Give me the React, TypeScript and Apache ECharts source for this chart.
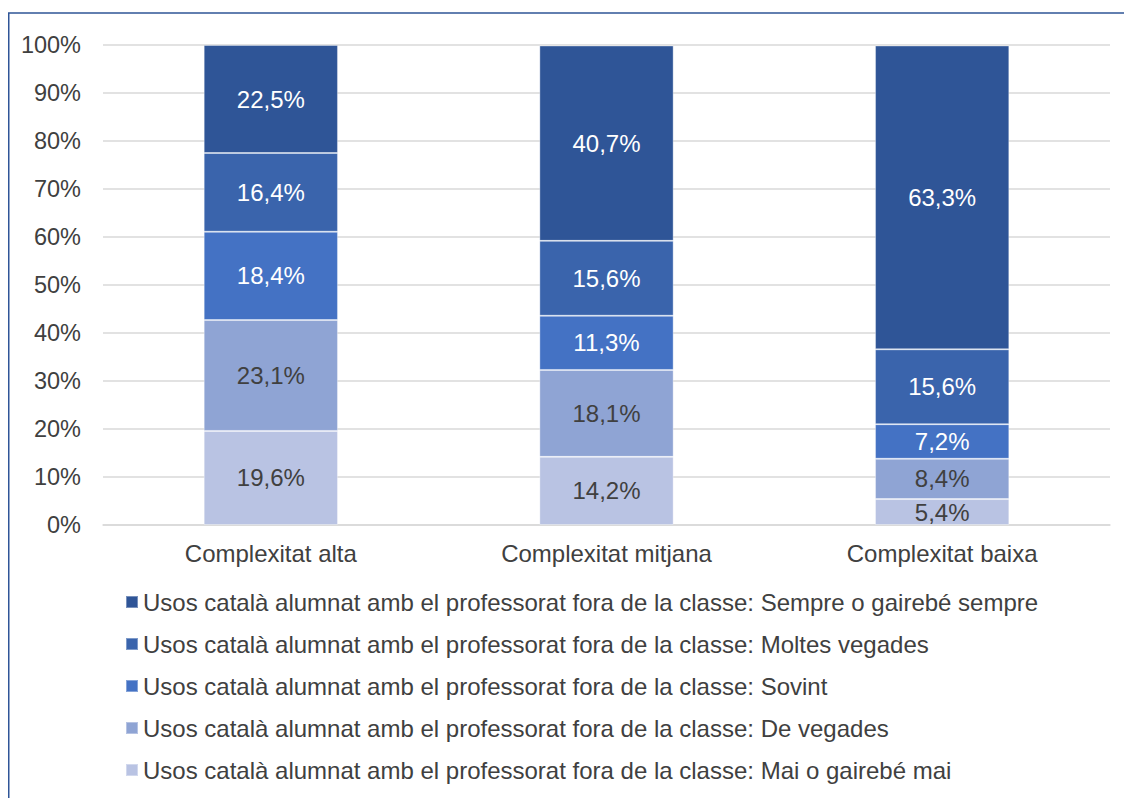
import React, { useEffect, useRef } from "react";
import * as echarts from "echarts";

const categories = ["Complexitat alta", "Complexitat mitjana", "Complexitat baixa"];
const prefix = "Usos català alumnat amb el professorat fora de la classe: ";
const mai = [19.6, 14.2, 5.4];
const deVegades = [23.1, 18.1, 8.4];
const sovint = [18.4, 11.3, 7.2];
const moltes = [16.4, 15.6, 15.6];
const sempre = [22.5, 40.7, 63.3];
const yTicks = [0, 10, 20, 30, 40, 50, 60, 70, 80, 90, 100];

const seriesDefs = [
  { name: prefix + "Mai o gairebé mai", data: mai, color: "#B9C3E3", label: "#404040" },
  { name: prefix + "De vegades", data: deVegades, color: "#8FA4D4", label: "#404040" },
  { name: prefix + "Sovint", data: sovint, color: "#4472C4", label: "#FFFFFF" },
  { name: prefix + "Moltes vegades", data: moltes, color: "#3A64AC", label: "#FFFFFF" },
  { name: prefix + "Sempre o gairebé sempre", data: sempre, color: "#2F5597", label: "#FFFFFF" },
];

const fmt = (v: number) => v.toFixed(1).replace(".", ",") + "%";

export default function App() {
  const ref = useRef<HTMLDivElement>(null);
  useEffect(() => {
    if (!ref.current) return;
    const chart = echarts.init(ref.current, null, { renderer: "svg" });
    const font = "'Liberation Sans', Arial, sans-serif";
    const fs = 24;
    chart.setOption({
      animation: false,
      textStyle: { fontFamily: font },
      graphic: [
        {
          type: "rect",
          shape: { x: 0.75, y: 5, width: 1300, height: 1000 },
          style: { fill: "none", stroke: "#2F5597", lineWidth: 1.5 },
          silent: true,
        },
      ],
      grid: { left: 95, right: 22, top: 37, bottom: 273 },
      legend: {
        orient: "vertical",
        left: 117,
        top: 581,
        padding: 0,
        itemWidth: 12,
        itemHeight: 12,
        itemGap: 16,
        itemTextGap: 6,
        icon: "rect",
        data: seriesDefs.map((s) => s.name).reverse(),
        textStyle: { fontSize: fs, color: "#404040", fontFamily: font, lineHeight: 26 },
      },
      xAxis: {
        type: "category",
        data: categories,
        axisLine: { show: true, lineStyle: { color: "#D9D9D9", width: 1.5 } },
        axisTick: { show: false },
        axisLabel: { fontSize: fs, color: "#404040", margin: 16, fontFamily: font },
      },
      yAxis: {
        type: "value",
        min: yTicks[0],
        max: yTicks[yTicks.length - 1],
        interval: 10,
        axisLabel: {
          fontSize: 23.5,
          color: "#404040",
          margin: 22,
          fontFamily: font,
          formatter: (v: number) => v + "%",
        },
        splitLine: { lineStyle: { color: "#D9D9D9", width: 1.5 } },
        axisLine: { show: false },
        axisTick: { show: false },
      },
      series: seriesDefs.map((s) => ({
        name: s.name,
        type: "bar",
        stack: "total",
        barWidth: "40%",
        data: s.data,
        itemStyle: { color: s.color, borderColor: "rgba(255,255,255,0.35)", borderWidth: 1 },
        label: {
          show: true,
          position: "inside",
          fontSize: fs,
          color: s.label,
          fontFamily: font,
          formatter: (p: any) => fmt(p.value),
        },
      })),
    });
    return () => chart.dispose();
  }, []);
  return <div ref={ref} style={{ width: 1124, height: 790 }} />;
}
